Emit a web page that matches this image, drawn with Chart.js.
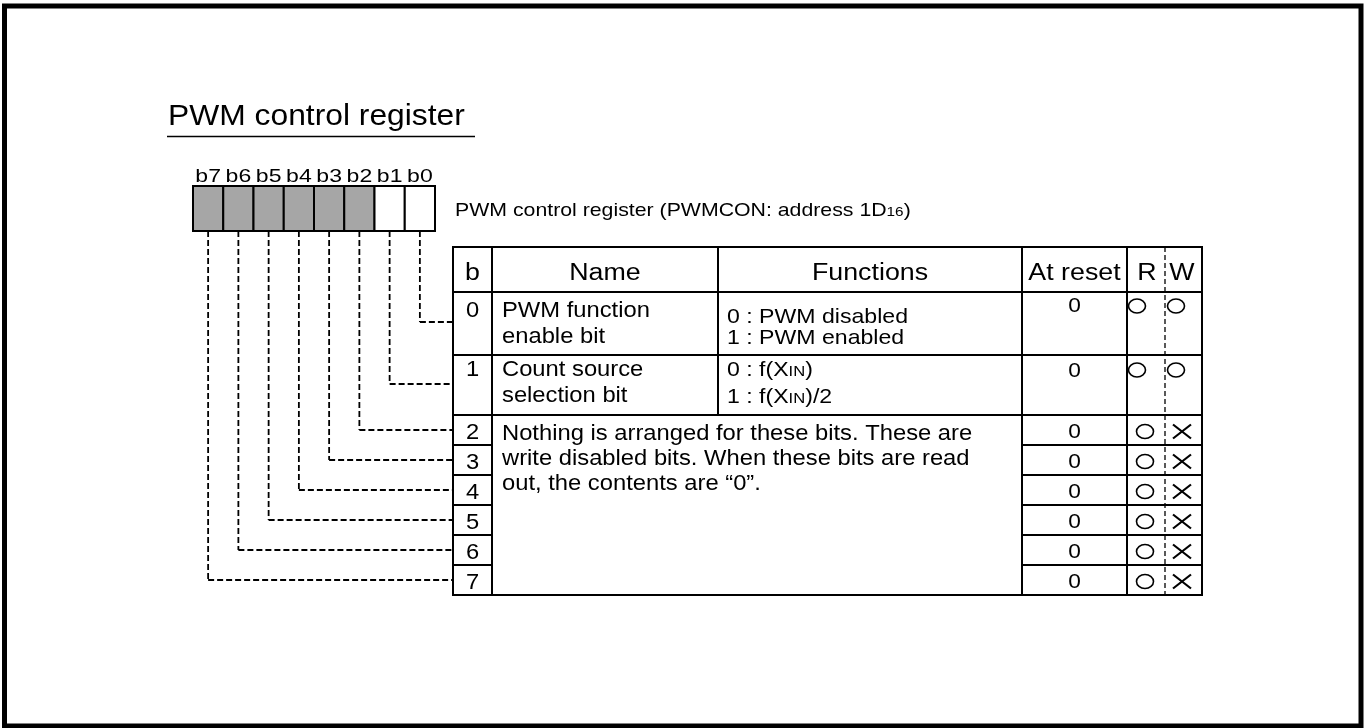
<!DOCTYPE html>
<html><head><meta charset="utf-8">
<script src="https://cdn.jsdelivr.net/npm/chart.js@4/dist/chart.umd.min.js"></script>
<style>html,body{margin:0;padding:0;background:#fff;overflow:hidden}canvas{display:block}</style>
</head><body>
<canvas id="c" width="1366" height="728"></canvas>
<script>
// ---- data ----
const chartTitle = 'PWM control register';
const registerCaption = 'PWM control register (PWMCON: address 1D{16})';
const bitLabels = ['b7','b6','b5','b4','b3','b2','b1','b0'];
const bitUsed = [false,false,false,false,false,false,true,true];
const headers = ['b','Name','Functions','At reset','R','W'];
const rowBits = ['0','1','2','3','4','5','6','7'];
const bitNames = [['PWM function','enable bit'],['Count source','selection bit']];
const bitFunctions = [['0 : PWM disabled','1 : PWM enabled'],['0 : f(X{IN})','1 : f(X{IN})/2']];
const reservedText = ['Nothing is arranged for these bits. These are','write disabled bits. When these bits are read','out, the contents are \u201c0\u201d.'];
const resetValues = ['0','0','0','0','0','0','0','0'];
const readable = [true,true,true,true,true,true,true,true];
const writable = [true,true,false,false,false,false,false,false];

// ---- layout ----
const FAM = '"Liberation Sans", Arial, Helvetica, sans-serif';
const REG_X0 = 193, REG_CW = 30.25, REG_Y0 = 186, REG_Y1 = 231;
const COLS = [453, 492, 718, 1022, 1127, 1165, 1202];
const ROWS = [247, 292, 355, 415, 445, 475, 505, 535, 565, 595];

const drawPlugin = {
  id: 'registerDiagram',
  afterDraw(chart) {
    const ctx = chart.ctx;
    const sx = chart.scales.x, sy = chart.scales.y;
    const X = v => sx.getPixelForValue(v);
    const Y = v => sy.getPixelForValue(v);

    function parse(str) {
      const out = []; const re = /\{([^}]*)\}/g; let last = 0, m;
      while ((m = re.exec(str))) {
        if (m.index > last) out.push({t: str.slice(last, m.index), s: false});
        out.push({t: m[1], s: true}); last = re.lastIndex;
      }
      if (last < str.length) out.push({t: str.slice(last), s: false});
      return out;
    }
    function text(str, x, y, size, align, stretch) {
      stretch = stretch || 1;
      const segs = parse(str);
      let w = 0;
      segs.forEach(sg => { ctx.font = (sg.s ? size * 0.72 : size) + 'px ' + FAM; sg.w = ctx.measureText(sg.t).width; w += sg.w; });
      let start = 0;
      if (align === 'center') start = -w / 2; else if (align === 'right') start = -w;
      ctx.save();
      ctx.translate(X(x), Y(y));
      ctx.scale(stretch, 1);
      ctx.fillStyle = '#000'; ctx.textAlign = 'left'; ctx.textBaseline = 'alphabetic';
      let cx = start;
      segs.forEach(sg => { ctx.font = (sg.s ? size * 0.72 : size) + 'px ' + FAM; ctx.fillText(sg.t, cx, 0); cx += sg.w; });
      ctx.restore();
    }
    function line(x1, y1, x2, y2, lw, dash) {
      ctx.save();
      ctx.beginPath();
      ctx.lineWidth = lw; ctx.strokeStyle = '#000';
      ctx.setLineDash(dash || []);
      ctx.moveTo(X(x1), Y(y1)); ctx.lineTo(X(x2), Y(y2));
      ctx.stroke(); ctx.restore();
    }
    function rect(x1, y1, x2, y2, lw, fill) {
      ctx.save();
      if (fill) { ctx.fillStyle = fill; ctx.fillRect(X(x1), Y(y1), X(x2) - X(x1), Y(y2) - Y(y1)); }
      ctx.lineWidth = lw; ctx.strokeStyle = '#000';
      ctx.strokeRect(X(x1), Y(y1), X(x2) - X(x1), Y(y2) - Y(y1));
      ctx.restore();
    }
    function ellipse(cx, cy, rx, ry, lw) {
      ctx.save(); ctx.beginPath(); ctx.lineWidth = lw; ctx.strokeStyle = '#000';
      ctx.ellipse(X(cx), Y(cy), rx, ry, 0, 0, Math.PI * 2); ctx.stroke(); ctx.restore();
    }

    // outer frame
    rect(4.5, 6, 1361, 726, 5);

    // title
    text(chartTitle, 168, 125, 30, 'left', 1.06);
    line(167, 136.5, 475, 136.5, 1.5);

    // register bits
    bitLabels.forEach((lb, i) => {
      const cx = REG_X0 + REG_CW * (i + 0.5);
      text(lb, cx, 182, 18, 'center', 1.28);
      rect(REG_X0 + REG_CW * i, REG_Y0, REG_X0 + REG_CW * (i + 1), REG_Y1, 2, bitUsed[i] ? '#ffffff' : '#a6a6a6');
    });
    text(registerCaption, 455, 216, 19, 'left', 1.12);

    const rowTop = b => b === 0 ? ROWS[1] : b === 1 ? ROWS[2] : ROWS[b + 1];
    const leaderY = [322, 384, 430, 460, 490, 520, 550, 580];

    // leader lines
    bitLabels.forEach((lb, i) => {
      const bit = 7 - i;
      const cx = REG_X0 + REG_CW * (i + 0.5);
      const ly = leaderY[bit];
      line(cx, REG_Y1, cx, ly, 1.8, [6, 3]);
      line(cx, ly, COLS[0], ly, 1.8, [6, 3]);
    });

    // table grid
    rect(COLS[0], ROWS[0], COLS[6], ROWS[ROWS.length - 1], 2);
    line(COLS[1], ROWS[0], COLS[1], ROWS[9], 2);
    line(COLS[2], ROWS[0], COLS[2], ROWS[3], 2);
    line(COLS[3], ROWS[0], COLS[3], ROWS[9], 2);
    line(COLS[4], ROWS[0], COLS[4], ROWS[9], 2);
    line(COLS[5], ROWS[0], COLS[5], ROWS[9], 1.3, [5, 3]);
    [1, 2, 3].forEach(r => line(COLS[0], ROWS[r], COLS[6], ROWS[r], 2));
    [4, 5, 6, 7, 8].forEach(r => {
      line(COLS[0], ROWS[r], COLS[1], ROWS[r], 2);
      line(COLS[3], ROWS[r], COLS[6], ROWS[r], 2);
    });

    // headers
    const hx = [472.5, 605, 870, 1074.5, 1147, 1182];
    headers.forEach((h, i) => text(h, hx[i], 280, 23.5, 'center', 1.14));

    // rows
    rowBits.forEach((b, bit) => {
      const top = rowTop(bit);
      if (bit < 2) {
        const base = bit === 0 ? 317 : 376;
        text(b, 472.5, base, 22, 'center', 1.08);
        text(bitNames[bit][0], 502, base, 22, 'left', 1.08);
        text(bitNames[bit][1], 502, base + 26, 22, 'left', 1.08);
        const fb = bit === 0 ? 323 : 376;
        const fs = bit === 0 ? 21 : 27;
        text(bitFunctions[bit][0], 727, fb, 21, 'left', 1.1);
        text(bitFunctions[bit][1], 727, fb + fs, 21, 'left', 1.1);
        const ry = bit === 0 ? 312 : 377;
        text(resetValues[bit], 1074.5, ry, 21, 'center', 1.08);
        const cy = bit === 0 ? 306 : 370;
        if (readable[bit]) ellipse(1137, cy, 8.5, 7, 1.6);
        if (writable[bit]) ellipse(1176, cy, 8.5, 7, 1.6);
      } else {
        text(b, 472.5, top + 24, 22, 'center', 1.08);
        text(resetValues[bit], 1074.5, top + 23, 21, 'center', 1.08);
        const cy = top + 16.5;
        if (readable[bit]) ellipse(1145, cy, 8.5, 7, 1.6);
        if (writable[bit]) ellipse(1182, cy, 8.5, 7, 1.6);
        else { line(1173, cy - 7, 1191, cy + 7, 2.2); line(1173, cy + 7, 1191, cy - 7, 2.2); }
      }
    });
    reservedText.forEach((t, i) => text(t, 502, 440 + 25 * i, 22, 'left', 1.08));
  }
};

new Chart(document.getElementById('c'), {
  type: 'scatter',
  data: { datasets: [{ data: [], pointRadius: 0 }] },
  options: {
    responsive: false,
    animation: false,
    devicePixelRatio: 1,
    layout: { padding: 0 },
    plugins: { legend: { display: false }, tooltip: { enabled: false }, title: { display: false } },
    scales: {
      x: { type: 'linear', min: 0, max: 1366, display: false },
      y: { type: 'linear', min: 0, max: 728, reverse: true, display: false }
    }
  },
  plugins: [drawPlugin]
});
</script>
</body></html>
